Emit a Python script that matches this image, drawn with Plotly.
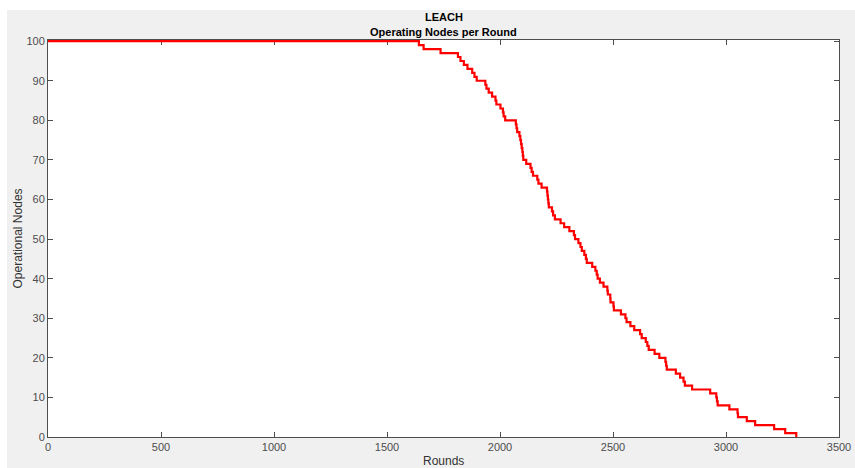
import plotly.graph_objects as go

rounds = [0, 1641, 1662, 1737, 1814, 1825, 1840, 1856, 1877, 1887, 1897, 1935, 1940, 1950,
          1965, 1980, 1984, 2002, 2013, 2016, 2023, 2070, 2073, 2076, 2086, 2090, 2093, 2096,
          2099, 2101, 2103, 2116, 2135, 2140, 2146, 2165, 2170, 2184, 2208, 2210, 2212, 2214,
          2216, 2230, 2235, 2243, 2268, 2284, 2307, 2327, 2332, 2347, 2356, 2362, 2373, 2380,
          2384, 2408, 2422, 2428, 2432, 2442, 2458, 2475, 2477, 2488, 2489, 2502, 2504, 2535,
          2555, 2560, 2577, 2594, 2620, 2627, 2645, 2652, 2658, 2684, 2705, 2732, 2735, 2738,
          2778, 2797, 2812, 2818, 2850, 2930, 2957, 2960, 2963, 3015, 3051, 3053, 3092, 3129,
          3213, 3262, 3311]
nodes = [100, 99, 98, 97, 96, 95, 94, 93, 92, 91, 90, 89, 88, 87,
         86, 85, 84, 83, 82, 81, 80, 79, 78, 77, 76, 75, 74, 73,
         72, 71, 70, 69, 68, 67, 66, 65, 64, 63, 62, 61, 60, 59,
         58, 57, 56, 55, 54, 53, 52, 51, 50, 49, 48, 47, 46, 45,
         44, 43, 42, 41, 40, 39, 38, 37, 36, 35, 34, 33, 32, 31,
         30, 29, 28, 27, 26, 25, 24, 23, 22, 21, 20, 19, 18, 17,
         16, 15, 14, 13, 12, 11, 10, 9, 8, 7, 6, 5, 4, 3,
         2, 1, 0]

x_ticks = [0, 500, 1000, 1500, 2000, 2500, 3000, 3500]
y_ticks = [0, 10, 20, 30, 40, 50, 60, 70, 80, 90, 100]

axis_col = "#4d4d4d"
font_fam = "Liberation Sans, Arial, sans-serif"

fig = go.Figure()
fig.add_trace(go.Scatter(x=rounds, y=nodes, mode="lines", line_shape="hv",
                         line=dict(color="#ff0000", width=2.2), showlegend=False,
                         cliponaxis=False))

W, H = 855, 468
L, R, T, B = 48, 16, 40, 31
pw, ph = W - L - R, H - T - B

def px2x(px):
    return (px - L) / pw

def py2y(py):
    return (H - B - py) / ph

fig.update_layout(
    width=W, height=H,
    margin=dict(l=L, r=R, t=T, b=B, autoexpand=False),
    paper_bgcolor="white",
    plot_bgcolor="white",
    font=dict(family=font_fam, size=11, color="#404040"),
    shapes=[
        dict(type="rect", xref="paper", yref="paper", layer="below",
             x0=px2x(7), x1=px2x(856), y0=py2y(469), y1=py2y(10),
             fillcolor="#f0f0f0", line=dict(width=0)),
        dict(type="rect", xref="paper", yref="paper", layer="below",
             x0=0, x1=1, y0=0, y1=1, fillcolor="white", line=dict(width=0)),
    ],
    annotations=[
        dict(text="<b>LEACH</b>", xref="paper", yref="paper", x=0.5, y=py2y(17),
             showarrow=False, font=dict(size=11, color="black"), yanchor="middle"),
        dict(text="<b>Operating Nodes per Round</b>", xref="paper", yref="paper", x=0.5,
             y=py2y(32), showarrow=False, font=dict(size=11, color="black"), yanchor="middle"),
        dict(text="Rounds", xref="paper", yref="paper", x=0.5, y=py2y(461),
             showarrow=False, font=dict(size=12, color="#333333"), yanchor="middle"),
        dict(text="Operational Nodes", xref="paper", yref="paper", x=px2x(17), y=0.5,
             textangle=-90, showarrow=False, font=dict(size=12, color="#333333"),
             xanchor="center", yanchor="middle"),
    ],
)
fig.update_xaxes(range=[0, 3500], tickvals=x_ticks, ticktext=[str(v) for v in x_ticks],
                 ticks="inside", ticklen=5, tickcolor=axis_col, showline=True,
                 linecolor=axis_col, linewidth=1, mirror="ticks", showgrid=False,
                 zeroline=False, automargin=False, layer="below traces",
                 tickfont=dict(size=11, color="#4d4d4d"))
fig.update_yaxes(range=[0, 100.3], tickvals=y_ticks, ticktext=[str(v) for v in y_ticks],
                 ticks="inside", ticklen=5, tickcolor=axis_col, showline=True,
                 linecolor=axis_col, linewidth=1, mirror="ticks", showgrid=False,
                 zeroline=False, automargin=False, layer="below traces",
                 tickfont=dict(size=11, color="#4d4d4d"))

fig.write_html("out.html")
